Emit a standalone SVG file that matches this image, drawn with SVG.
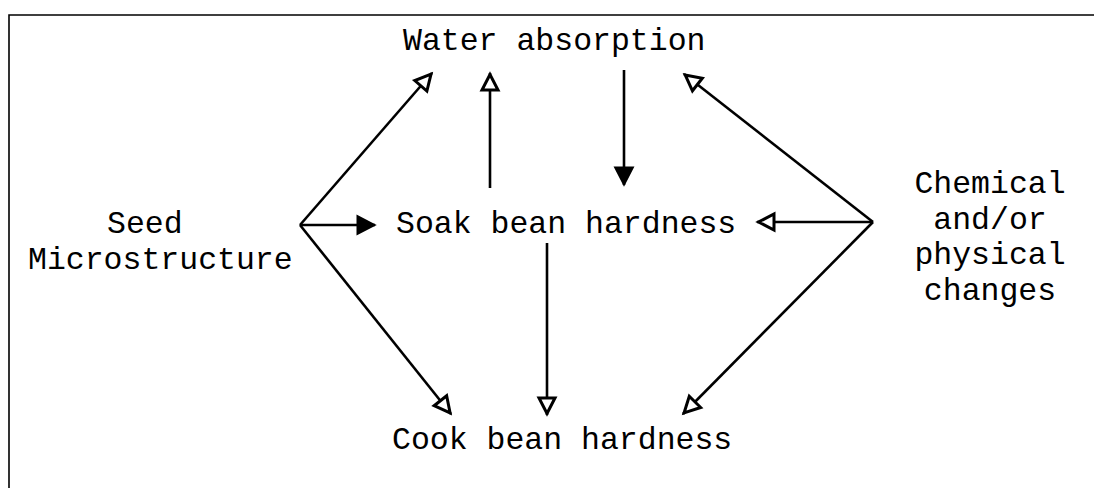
<svg xmlns="http://www.w3.org/2000/svg" width="1094" height="488" viewBox="0 0 1094 488">
<style>
text{font-family:"Liberation Mono","Courier New",monospace;font-size:31.5px;fill:#000}
.c{stroke:#000;stroke-width:2.6;fill:none}
.frame{stroke:#000;stroke-width:1.6;fill:none}
</style>
<defs>
<marker id="open" markerUnits="userSpaceOnUse" orient="auto" markerWidth="24" markerHeight="20" refX="0" refY="0" viewBox="-20 -10 24 20" overflow="visible">
<path d="M-1.5,0 L-17,-8 L-17,8 Z" fill="#fff" stroke="#000" stroke-width="3" stroke-linejoin="miter"/>
</marker>
<marker id="solid" markerUnits="userSpaceOnUse" orient="auto" markerWidth="24" markerHeight="20" refX="0" refY="0" viewBox="-20 -10 24 20" overflow="visible">
<path d="M-1.5,0 L-17,-8 L-17,8 Z" fill="#000" stroke="#000" stroke-width="3"/>
</marker>
</defs>
<rect width="1094" height="488" fill="#fff"/>
<g id="frame">
<path class="frame" d="M9,488 V15 H1094"/>
</g>
<g id="water"><text x="403" y="50">Water absorption</text></g>
<g id="soak"><text x="396" y="233">Soak bean hardness</text></g>
<g id="cook"><text x="392" y="449">Cook bean hardness</text></g>
<g id="seed"><text x="107" y="233">Seed</text><text x="28" y="269">Microstructure</text></g>
<g id="chem" text-anchor="middle">
<text x="990" y="193">Chemical</text>
<text x="990" y="229">and/or</text>
<text x="990" y="264">physical</text>
<text x="990" y="300">changes</text>
</g>
<g id="connectors">
<line class="c" x1="300" y1="225" x2="432" y2="73" marker-end="url(#open)"/>
<line class="c" x1="300" y1="225" x2="375" y2="225" marker-end="url(#solid)"/>
<line class="c" x1="300" y1="225" x2="451" y2="414" marker-end="url(#open)"/>
<line class="c" x1="490" y1="188" x2="490" y2="73" marker-end="url(#open)"/>
<line class="c" x1="624" y1="70" x2="624" y2="185" marker-end="url(#solid)"/>
<line class="c" x1="547" y1="243" x2="547" y2="415" marker-end="url(#open)"/>
<line class="c" x1="873" y1="222" x2="684" y2="74" marker-end="url(#open)"/>
<line class="c" x1="873" y1="222" x2="757" y2="222" marker-end="url(#open)"/>
<line class="c" x1="873" y1="222" x2="683" y2="414" marker-end="url(#open)"/>
</g>
</svg>
